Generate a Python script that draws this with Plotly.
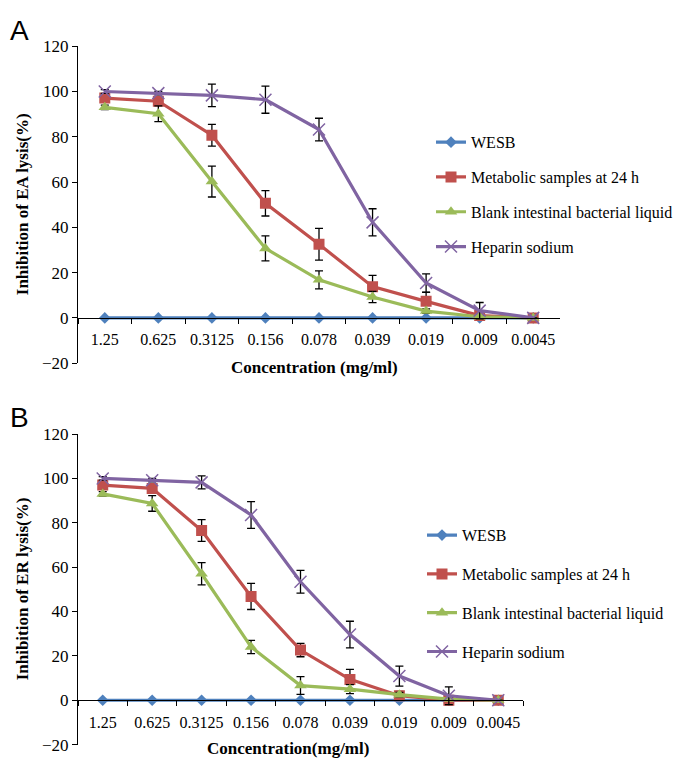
import plotly.graph_objects as go

# x categories (concentration, mg/ml)
conc = ["1.25", "0.625", "0.3125", "0.156", "0.078", "0.039", "0.019", "0.009", "0.0045"]
names = ["WESB", "Metabolic samples at 24 h", "Blank intestinal bacterial liquid", "Heparin sodium"]

# panel A - inhibition of EA lysis (%)
ea_wesb = [0, 0, 0, 0, 0, 0, 0, 0, 0]
ea_meta = [97.1, 95.7, 80.7, 50.6, 32.5, 13.8, 7.3, 1.0, 0]
ea_blank = [93.0, 90.2, 60.2, 30.7, 16.8, 9.2, 3.0, 0.5, 0]
ea_hep = [100, 99.3, 98.3, 96.4, 83.2, 42.2, 15.4, 3.2, 0]
ea_meta_err = [1.0, 1.0, 4.8, 5.6, 7.0, 5.0, 4.0, 1.0, 0]
ea_blank_err = [1.0, 3.5, 6.8, 5.5, 4.0, 2.5, 1.0, 0.5, 0]
ea_hep_err = [0.8, 0.8, 5.0, 6.0, 5.0, 6.0, 4.0, 3.6, 0]

# panel B - inhibition of ER lysis (%)
er_wesb = [0, 0, 0, 0, 0, 0, 0, 0, 0]
er_meta = [97.0, 95.5, 76.5, 46.8, 22.6, 9.4, 2.0, 0, 0]
er_blank = [93.0, 88.7, 57.0, 24.0, 6.6, 5.0, 2.5, 0.5, 0]
er_hep = [100, 99.2, 98.2, 83.5, 53.4, 29.6, 10.9, 2.0, 0]
er_meta_err = [1.0, 1.0, 4.9, 5.9, 3.0, 4.5, 2.0, 2.0, 0]
er_blank_err = [1.0, 3.5, 5.0, 3.0, 4.0, 2.0, 1.0, 0.5, 0]
er_hep_err = [0.8, 0.8, 2.9, 6.0, 5.1, 6.0, 4.5, 4.0, 0]

colors = ["#4F81BD", "#C0504D", "#9BBB59", "#8064A2"]
symbols = ["diamond", "square", "triangle-up", "x-thin"]
sizes = [9, 11, 11, 12]
serif = "Liberation Serif, Times New Roman, serif"

W, H = 682, 762
fig = go.Figure()


def add_panel(vals, errs, xa, ya, leg, tag):
    for i, (name, v) in enumerate(zip(names, vals)):
        marker = dict(color=colors[i], symbol=symbols[i], size=sizes[i])
        if symbols[i] == "x-thin":
            marker["line"] = dict(color=colors[i], width=1.5)
        tr = dict(
            x=conc, y=v, name=name, mode="lines+markers",
            line=dict(color=colors[i], width=3.2), marker=marker,
            xaxis=xa, yaxis=ya, legend=leg, legendgroup=tag + str(i),
        )
        if errs[i] is not None:
            tr["error_y"] = dict(type="data", array=errs[i], visible=True,
                                 color="black", thickness=1.3, width=4)
        fig.add_trace(go.Scatter(**tr))


add_panel([ea_wesb, ea_meta, ea_blank, ea_hep],
          [None, ea_meta_err, ea_blank_err, ea_hep_err], "x", "y", "legend", "a")
add_panel([er_wesb, er_meta, er_blank, er_hep],
          [None, er_meta_err, er_blank_err, er_hep_err], "x2", "y2", "legend2", "b")

# plot areas (pixel edges converted to paper fractions)
ydomA = [1 - 355 / H, 1 - 30 / H]
ydomB = [1 - 746.2 / H, 1 - 427.7 / H]
xdomA = [70 / W, 552 / W]
xdomB = [70 / W, 515 / W]


def zero_pos(dom):
    # x axis crosses the y axis at 0 (range -20..120)
    return dom[0] + (20 / 140) * (dom[1] - dom[0])


yax = dict(range=[-20, 120], dtick=20, showgrid=False, zeroline=False,
           showline=True, linecolor="black", linewidth=1.2,
           ticks="outside", ticklen=5, tickcolor="black",
           tickfont=dict(family=serif, size=17, color="black"))
xax = dict(type="category", range=[-0.5, 8.5], showgrid=False, zeroline=False,
           showline=True, linecolor="black", linewidth=1.2, anchor="free",
           ticks="outside", ticklen=5, tickcolor="black", tickson="boundaries",
           tickangle=0, tickfont=dict(family=serif, size=16, color="black"),
           ticklabelstandoff=7)

leg = dict(font=dict(family=serif, size=16, color="black"), bgcolor="rgba(0,0,0,0)",
           traceorder="grouped", xanchor="left", yanchor="top")

fig.update_layout(
    width=W, height=H, autosize=False,
    margin=dict(l=0, r=0, t=0, b=0),
    paper_bgcolor="white", plot_bgcolor="white",
    font=dict(family=serif, color="black"),
    showlegend=True,
    xaxis=dict(xax, domain=xdomA, position=zero_pos(ydomA)),
    yaxis=dict(yax, domain=ydomA, anchor="x"),
    xaxis2=dict(xax, domain=xdomB, position=zero_pos(ydomB)),
    yaxis2=dict(yax, domain=ydomB, anchor="x2"),
    legend=dict(leg, x=423 / W, y=1 - 111 / H, tracegroupgap=11),
    legend2=dict(leg, x=414 / W, y=1 - 514 / H, tracegroupgap=15),
)

bold = dict(family=serif, size=17, color="black")
ann = [
    dict(text="A", x=11, y=14, font=dict(family="Liberation Sans", size=28, color="black")),
    dict(text="B", x=11, y=411, font=dict(family="Liberation Sans", size=28, color="black")),
    dict(text="<b>Concentration (mg/ml)</b>", x=306, y=359, font=bold),
    dict(text="<b>Concentration(mg/ml)</b>", x=280, y=750, font=bold),
    dict(text="<b>Inhibition of EA lysis(%)</b>", x=14, y=192, font=bold, textangle=-90),
    dict(text="<b>Inhibition of ER lysis(%)</b>", x=14, y=587, font=bold, textangle=-90),
]
for a in ann:
    fig.add_annotation(xref="paper", yref="paper", showarrow=False,
                       xanchor="center", yanchor="middle",
                       **dict(a, x=a["x"] / W, y=1 - a["y"] / H))

fig.write_html("out.html")
